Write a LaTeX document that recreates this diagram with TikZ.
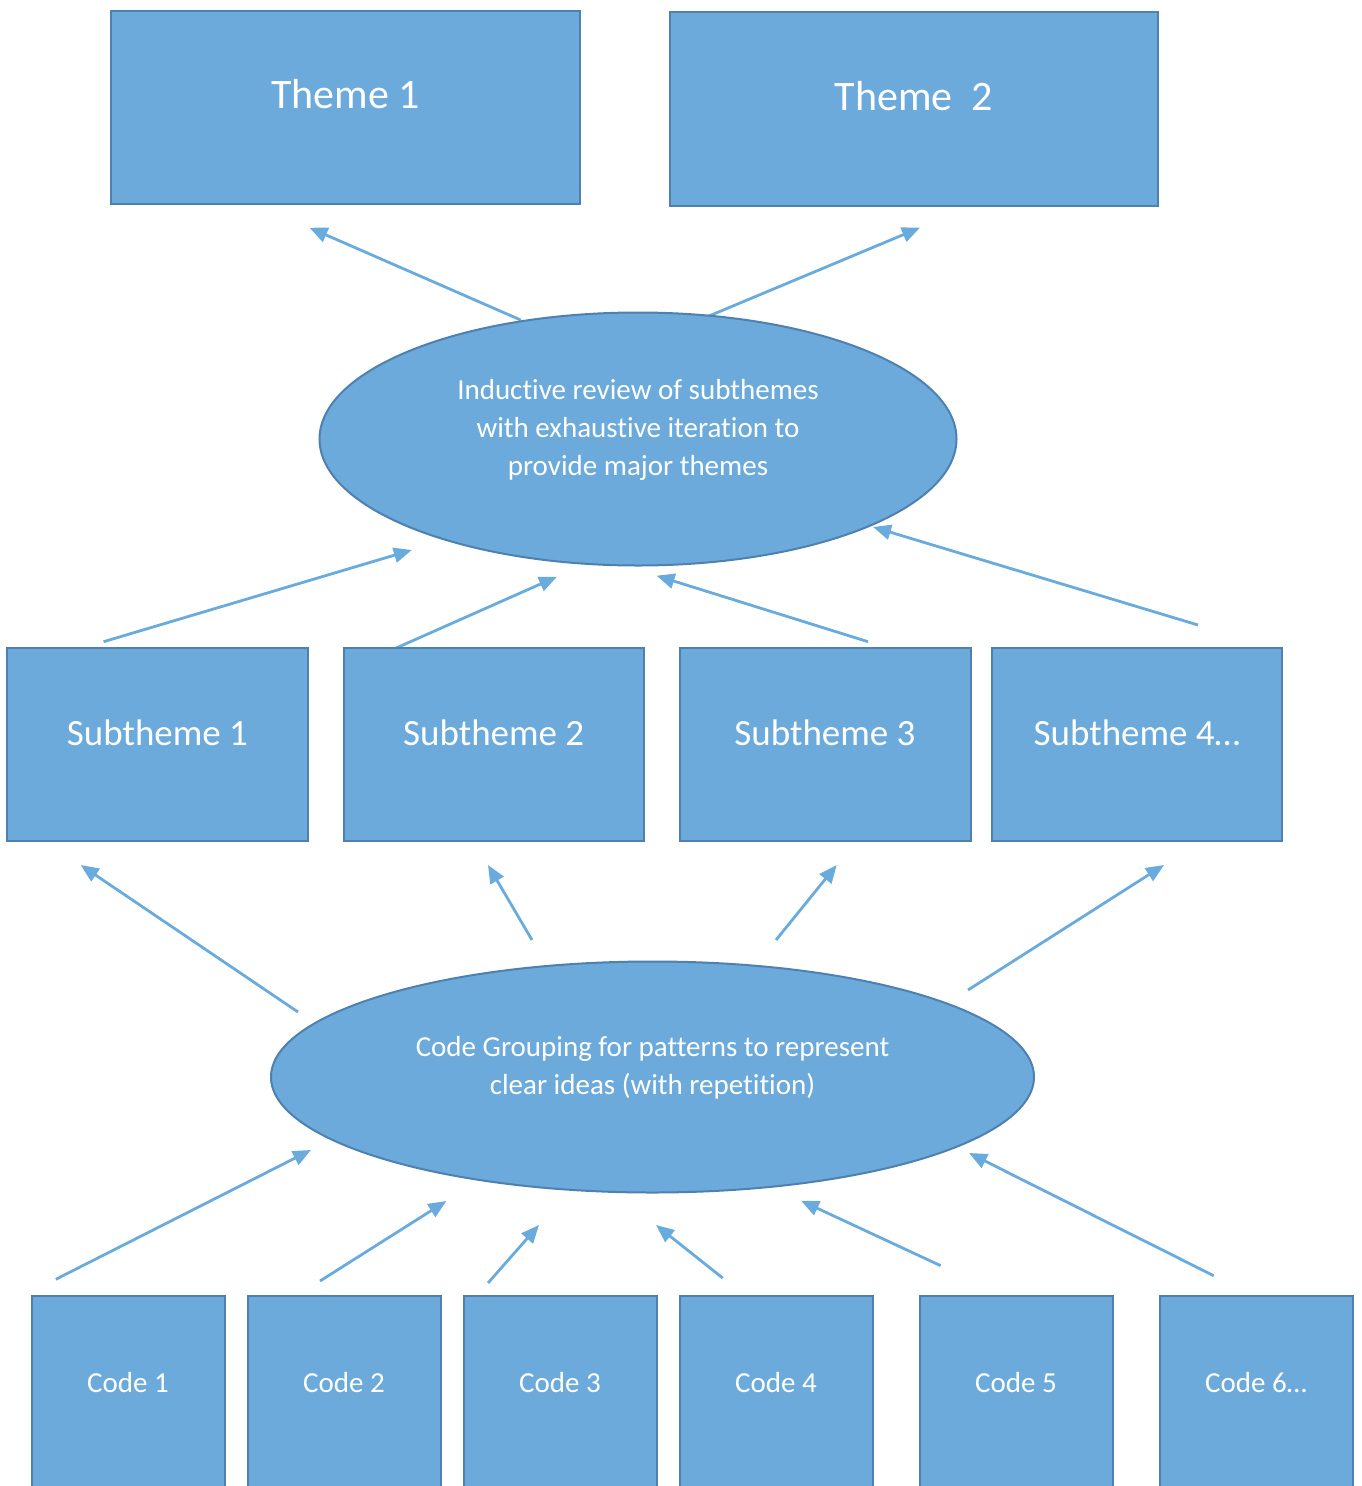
\documentclass[tikz,border=0pt]{standalone}
\usepackage{fontspec}
\setmainfont{Carlito}[Ligatures={NoCommon}]
\usetikzlibrary{arrows.meta,shapes.geometric}
\definecolor{boxfill}{HTML}{6BAADB}
\definecolor{boxline}{HTML}{4E80B0}
\definecolor{arrowc}{HTML}{6AABDD}
\begin{document}
\begin{tikzpicture}[x=1pt,y=-1pt,
  box/.style={rectangle, draw=boxline, fill=boxfill, line width=2pt, inner sep=0pt, text=white, anchor=base},
  themebox/.style={box, text height=97pt, text depth=96pt, font=\fontsize{42}{50}\selectfont},
  subbox/.style={box, minimum width=#1, text height=97pt, text depth=96pt, font=\fontsize{37}{44}\selectfont},
  codebox/.style={box, minimum width=193pt, text height=96pt, text depth=110pt, font=\fontsize{29}{35}\selectfont},
  oval/.style={ellipse, draw=boxline, fill=boxfill, line width=2pt, inner sep=0pt},
  ovaltext/.style={text=white, align=center, font=\fontsize{29}{38}\selectfont, inner sep=0pt},
  arr/.style={draw=arrowc, line width=2.8pt, -{Triangle[length=18pt,width=15pt]}}]
\useasboundingbox (0,0) rectangle (1362,1486);

% arrow end points
\coordinate (a1s) at (520.7,320);   \coordinate (a1e) at (309.5,227.7);
\coordinate (a2s) at (709,316);     \coordinate (a2e) at (920,227.7);
\coordinate (b1s) at (103.6,641.7); \coordinate (b1e) at (411.8,550);
\coordinate (b2s) at (394,649);     \coordinate (b2e) at (557,576.7);
\coordinate (b3s) at (868,641.7);   \coordinate (b3e) at (656.6,575.7);
\coordinate (b4s) at (1198,625);    \coordinate (b4e) at (873,527);
\coordinate (c1s) at (298,1012);    \coordinate (c1e) at (80.7,865);
\coordinate (c2s) at (532,940);     \coordinate (c2e) at (488,865);
\coordinate (c3s) at (776,940);     \coordinate (c3e) at (836.7,865);
\coordinate (c4s) at (968,990);     \coordinate (c4e) at (1164,865);
\coordinate (d1s) at (55.8,1279.3); \coordinate (d1e) at (311,1150);
\coordinate (d2s) at (320,1281);    \coordinate (d2e) at (446.4,1201);
\coordinate (d3s) at (488,1283);    \coordinate (d3e) at (539,1225);
\coordinate (d4s) at (722.7,1278);  \coordinate (d4e) at (656,1225);
\coordinate (d5s) at (940.7,1265.7);\coordinate (d5e) at (801,1200.7);
\coordinate (d6s) at (1213.7,1275.7);\coordinate (d6e) at (969,1153);

\foreach \n in {a1,a2,b1,b2,b3,b4,c1,c2,c3,c4,d1,d2,d3,d4,d5,d6}
  \draw[arr] (\n s) -- (\n e);

% themes
\node[themebox, minimum width=469pt] (t1) at (345.5,108) {Theme 1};
\node[themebox, minimum width=488pt, text height=98pt] (t2) at (914,110) {Theme~~2};

% upper ellipse
\node[oval, minimum width=637pt, minimum height=253pt] (e1) at (638,439) {};
\node[ovaltext] (e1t) at (638,430) {Inductive review of subthemes\\with exhaustive iteration to\\provide major themes};

% subthemes
\node[subbox=301pt] (s1) at (157.5,745) {Subtheme 1};
\node[subbox=300.5pt] (s2) at (493.75,745) {Subtheme 2};
\node[subbox=291pt] (s3) at (825,745) {Subtheme 3};
\node[subbox=290.5pt] (s4) at (1137,745) {Subtheme 4…};

% lower ellipse
\node[oval, minimum width=763pt, minimum height=231pt] (e2) at (652.5,1077) {};
\node[ovaltext] (e2t) at (652.5,1067.5) {Code Grouping for patterns to represent\\clear ideas (with repetition)};

% codes
\node[codebox] (k1) at (128,1392) {Code 1};
\node[codebox] (k2) at (344,1392) {Code 2};
\node[codebox] (k3) at (560,1392) {Code 3};
\node[codebox] (k4) at (776,1392) {Code 4};
\node[codebox] (k5) at (1016,1392) {Code 5};
\node[codebox] (k6) at (1256,1392) {Code 6…};
\end{tikzpicture}
\end{document}
